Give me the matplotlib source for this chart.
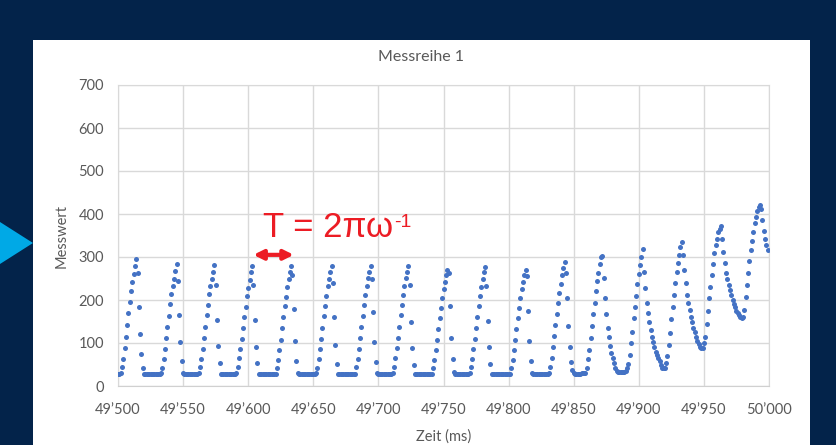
import numpy as np
import matplotlib.pyplot as plt
from matplotlib.patches import Rectangle, Polygon

# Messreihe 1: one sample per ms, starting at 49'500 ms
zeit_start = 49500
messwert = [
    28, 28, 30, 45, 63, 88, 113, 142, 170, 196, 220, 242, 261, 278,
    # cycle 1
    295, 263, 183, 120, 74, 43, 28,
    27, 27, 27, 27, 27, 27, 27, 27, 28, 27, 28, 28,
    30, 43, 63, 85, 111, 138, 163, 190, 213, 233, 250, 268,
    # cycle 2
    284, 244, 164, 102, 57, 30,
    28, 27, 27, 27, 27, 27, 27, 27, 27, 28, 28,
    30, 45, 62, 85, 111, 138, 165, 188, 213, 233, 250, 264,
    # cycle 3
    281, 235, 154, 93, 53, 28,
    27, 27, 27, 27, 27, 27, 27, 27, 27, 28, 28,
    30, 44, 64, 86, 109, 136, 161, 183, 209, 229, 246, 264,
    # cycle 4
    279, 235, 154, 90, 53, 29,
    28, 27, 27, 27, 27, 27, 27, 27, 27, 27, 28, 28,
    29, 42, 60, 84, 108, 134, 160, 186, 208, 230, 250, 266,
    # cycle 5
    280, 258, 178, 105, 58, 30,
    28, 27, 27, 27, 27, 27, 27, 27, 27, 27, 27, 28, 28,
    30, 43, 62, 86, 110, 136, 162, 186, 210, 232, 250, 266,
    # cycle 6
    278, 240, 160, 95, 52, 29,
    28, 27, 27, 27, 27, 27, 27, 27, 27, 27, 28, 28,
    29, 44, 63, 86, 111, 137, 163, 188, 211, 232, 251, 266,
    # cycle 7
    278, 250, 172, 102, 56, 30,
    28, 27, 27, 27, 27, 27, 27, 27, 27, 28, 28,
    30, 45, 64, 88, 112, 138, 164, 189, 212, 233, 252, 266,
    # cycle 8
    278, 236, 150, 88, 50, 29,
    28, 27, 27, 27, 27, 27, 27, 27, 27, 27, 28, 28,
    29, 42, 60, 83, 107, 132, 157, 181, 204, 225, 243, 258,
    # cycle 9
    270, 262, 185, 112, 62, 33,
    28, 27, 27, 27, 27, 27, 27, 27, 27, 28, 28,
    30, 44, 63, 86, 110, 136, 161, 186, 209, 230, 249, 264,
    # cycle 10
    276, 232, 152, 90, 51, 29,
    28, 27, 27, 27, 27, 27, 27, 27, 27, 27, 27, 28, 28,
    29, 43, 61, 84, 108, 133, 158, 182, 204, 225, 243, 258,
    # cycle 11
    270, 255, 175, 104, 57, 31,
    28, 27, 27, 27, 27, 27, 27, 27, 27, 27, 28, 28,
    30, 45, 66, 90, 116, 142, 168, 193, 217, 238, 257, 274,
    # cycle 12
    288, 262, 205, 140, 90, 55, 38, 31,
    29, 29, 29, 29, 29, 30, 30, 30, 31,
    43, 62, 84, 112, 140, 167, 194, 221, 244, 263, 283, 301,
    # cycle 13
    303, 252, 205, 167, 136, 113, 94, 77, 64, 53, 43, 36, 33, 32, 32, 32, 32, 33, 36, 42,
    51, 72, 99, 126, 157, 183, 209, 237, 260, 281, 301,
    # cycle 14
    318, 266, 227, 194, 169, 148, 130, 115, 103, 91, 80, 72, 64, 57, 49, 43, 41, 42,
    53, 70, 95, 124, 155, 183, 212, 239, 264, 287, 305, 324,
    # cycle 15
    336, 305, 270, 239, 212, 192, 177, 161, 148, 136, 125, 115, 105, 98, 91, 88, 89, 100,
    115, 144, 174, 204, 231, 258, 284, 309, 328, 343, 358, 366,
    # cycle 16
    372, 343, 312, 285, 263, 248, 235, 223, 212, 200, 191, 183, 175, 169, 164, 160, 159, 160,
    177, 206, 235, 263, 291, 316, 337, 359, 378, 394, 408, 416,
    # cycle 17
    421, 411, 386, 361, 343, 328, 316,
]
zeit = zeit_start + np.arange(len(messwert))

x_ticks = [49500, 49550, 49600, 49650, 49700, 49750, 49800, 49850, 49900, 49950, 50000]
x_labels = ["49’500", "49’550", "49’600", "49’650", "49’700", "49’750",
            "49’800", "49’850", "49’900", "49’950", "50’000"]
y_ticks = [0, 100, 200, 300, 400, 500, 600, 700]

# period arrow: from one peak to the next
pfeil_start = 49604
pfeil_ende = 49635
pfeil_hoehe = 305

W, H = 836, 445
navy = "#03234a"
grau = "#595959"
rot = "#ec1c24"

fig = plt.figure(figsize=(W / 100, H / 100), dpi=100, facecolor=navy)

# white chart area on the slide
fig.patches.append(Rectangle((33 / W, 0), (810 - 33) / W, (H - 40) / H,
                             transform=fig.transFigure, facecolor="white",
                             edgecolor="none", zorder=-2))
# light blue bullet triangle on the left
fig.patches.append(Polygon([(0, 1 - 222 / H), (33 / W, 1 - 243 / H), (0, 1 - 264 / H)],
                           closed=True, transform=fig.transFigure,
                           facecolor="#00a9e6", edgecolor="none", zorder=-1))

ax = fig.add_axes([118 / W, (H - 386) / H, (769 - 118) / W, (386 - 85) / H])
ax.set_facecolor("white")

ax.plot(zeit, messwert, "o", color="#4472c4", markersize=3.6, markeredgewidth=0, zorder=3)

ax.set_xlim(49500, 50000)
ax.set_ylim(0, 700)
ax.set_xticks(x_ticks)
ax.set_xticklabels(x_labels)
ax.set_yticks(y_ticks)

ax.grid(True, color="#d9d9d9", linewidth=1)
ax.set_axisbelow(True)
for side in ["top", "right", "left"]:
    ax.spines[side].set_color("#d9d9d9")
ax.spines["bottom"].set_color("#d0d0d0")
ax.tick_params(length=0, labelsize=10.5, labelcolor=grau)
ax.tick_params(axis="x", pad=12)
ax.tick_params(axis="y", pad=10)
for lab in ax.get_xticklabels() + ax.get_yticklabels():
    lab.set_fontfamily("Lato")

ax.set_xlabel("Zeit (ms)", fontsize=10.5, color=grau, family="Lato", labelpad=9)
ax.set_ylabel("Messwert", fontsize=10.5, color=grau, family="Lato", labelpad=7)
fig.text(421.5 / W, 1 - 57 / H, "Messreihe 1", ha="center", va="center",
         fontsize=11.5, color=grau, family="Lato")

# annotation: period
ax.annotate("", xy=(pfeil_start, pfeil_hoehe), xytext=(pfeil_ende, pfeil_hoehe),
            arrowprops=dict(arrowstyle="<|-|>", color=rot, lw=3, mutation_scale=14,
                            shrinkA=0, shrinkB=0), zorder=4)
t = fig.text(263 / W, 1 - 237 / H, "T = 2πω", fontsize=25, color=rot,
             family="Liberation Sans", ha="left", va="baseline")
fig.canvas.draw()
bb = t.get_window_extent()
fig.text((bb.x1 + 1) / W, (bb.y1 - 3) / H, "-1", fontsize=14, color=rot,
         family="Liberation Sans", ha="left", va="top")

fig.savefig("out.png", dpi=100, facecolor=navy)
